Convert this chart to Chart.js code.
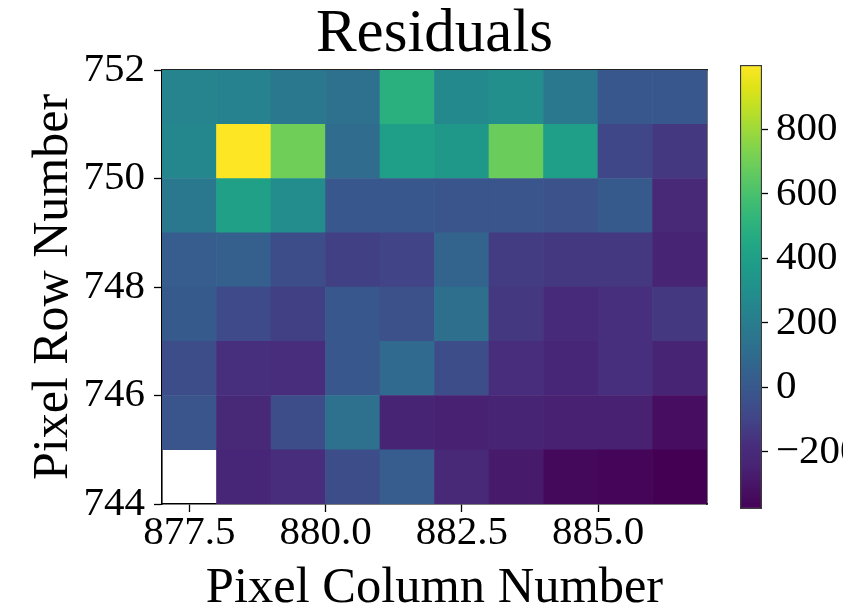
<!DOCTYPE html>
<html><head><meta charset="utf-8">
<script src="https://cdn.jsdelivr.net/npm/chart.js@4.4.1/dist/chart.umd.min.js"></script>
<style>
html,body{margin:0;padding:0;background:#fff;}
#wrap{position:relative;width:843px;height:607px;overflow:hidden;background:#fff;}
canvas{position:absolute;left:0;top:0;}
</style></head><body>
<div id="wrap"><canvas id="heat" width="843" height="607"></canvas><canvas id="cbar" width="843" height="607"></canvas></div>
<script>
// ---- data ----
const columns = [877, 878, 879, 880, 881, 882, 883, 884, 885, 886];
const rows = [744, 745, 746, 747, 748, 749, 750, 751];
const row744 = [null, -224, -182, -59, 24, -210, -279, -348, -361, -377];
const row745 = [-17, -210, -59, 134, -237, -251, -237, -251, -251, -330];
const row746 = [-59, -169, -182, -4, 93, -59, -182, -224, -169, -237];
const row747 = [10, -72, -114, -4, -45, 120, -141, -196, -169, -141];
const row748 = [24, 38, -59, -114, -100, 65, -127, -141, -141, -237];
const row749 = [175, 409, 285, -4, -4, -17, -17, -31, 10, -210];
const row750 = [257, 1000, 697, 106, 395, 354, 684, 395, -86, -141];
const row751 = [244, 230, 175, 134, 491, 271, 299, 175, -4, -4];
const values = [row744, row745, row746, row747, row748, row749, row750, row751];
const xTicks = [877.5, 880.0, 882.5, 885.0];
const yTicks = [744, 746, 748, 750, 752];
const colorbarTicks = [-200, 0, 200, 400, 600, 800];

// ---- colormap ----
const VIRIDIS = ['#440154','#471365','#482475','#472f7d','#414487','#3b528b','#355f8d','#2f6c8e','#2a788e','#25848e','#21918c','#1e9c89','#22a884','#2fb47c','#44bf70','#5ec962','#7ad151','#9bd93c','#bddf26','#dfe318','#fde725'];
function hex2rgb(h){return [parseInt(h.slice(1,3),16),parseInt(h.slice(3,5),16),parseInt(h.slice(5,7),16)];}
const VRGB = VIRIDIS.map(hex2rgb);
function viridis(t){
  t = Math.max(0, Math.min(1, t));
  const n = VRGB.length - 1;
  const s = t * n;
  const i = Math.min(n - 1, Math.floor(s));
  const f = s - i;
  const a = VRGB[i], b = VRGB[i + 1];
  return 'rgb(' + [0,1,2].map(k => Math.round(a[k] + (b[k] - a[k]) * f)).join(',') + ')';
}
const allVals = values.flat().filter(v => v !== null);
const vmin = Math.min(...allVals);
const vmax = Math.max(...allVals);
const colorOf = v => viridis((v - vmin) / (vmax - vmin));

const FONT = '"Liberation Serif", "DejaVu Serif", serif';
const fmt = (v, d) => (v < 0 ? '\u2212' : '') + Math.abs(v).toFixed(d);
const setTicks = arr => s => { s.ticks = arr.map(v => ({ value: v })); };

// ---- heatmap ----
const datasets = rows.map((r, ri) => {
  const cells = columns.map((c, ci) => ({ x: c + 0.5, y: [r, r + 1], v: values[ri][ci] }))
                       .filter(d => d.v !== null);
  return {
    data: cells,
    backgroundColor: cells.map(d => colorOf(d.v)),
    borderWidth: 0,
    grouped: false,
    barPercentage: 1,
    categoryPercentage: 1
  };
});

new Chart(document.getElementById('heat'), {
  type: 'bar',
  data: { datasets },
  options: {
    responsive: false, animation: false, devicePixelRatio: 1,
    layout: { padding: { left: 0, right: 136, top: 0, bottom: 0 } },
    plugins: {
      legend: { display: false }, tooltip: { enabled: false },
      title: { display: true, fullSize: false, text: 'Residuals', color: '#000',
        font: { family: FONT, size: 61, weight: 'normal', lineHeight: 1 },
        padding: { top: 4, bottom: 5 } }
    },
    scales: {
      x: {
        type: 'linear', position: 'bottom', min: 877, max: 887, offset: false,
        afterBuildTicks: setTicks(xTicks),
        afterFit: s => { s.height = 103; },
        ticks: { font: { family: FONT, size: 41, lineHeight: 1 }, color: '#000', padding: 1,
                 maxRotation: 0, autoSkip: false, callback: v => fmt(v, 1) },
        grid: { display: true, drawOnChartArea: false, drawTicks: true, tickLength: 8,
                tickWidth: 1.3, tickColor: '#000', offset: false },
        border: { display: true, color: '#000', width: 1.6 },
        title: { display: true, text: 'Pixel Column Number', color: '#000',
                 font: { family: FONT, size: 50.5, lineHeight: 1 }, padding: { top: 0, bottom: -7 } }
      },
      y: {
        type: 'linear', position: 'left', min: 744, max: 752, beginAtZero: false,
        afterBuildTicks: setTicks(yTicks),
        afterFit: s => { s.width = 162; },
        ticks: { font: { family: FONT, size: 41, lineHeight: 1 }, color: '#000', padding: 9,
                 autoSkip: false, callback: v => fmt(v, 0) },
        grid: { display: true, drawOnChartArea: false, drawTicks: true, tickLength: 8,
                tickWidth: 1.3, tickColor: '#000' },
        border: { display: true, color: '#000', width: 1.6 },
        title: { display: true, text: 'Pixel Row Number', color: '#000',
                 font: { family: FONT, size: 50, lineHeight: 1 }, padding: { top: 28.5, bottom: 0 } }
      },
      x2: {
        type: 'linear', position: 'top', display: true, min: 0, max: 1,
        afterFit: s => { s.height = 0; },
        ticks: { display: false },
        grid: { display: true, drawOnChartArea: false, drawTicks: false },
        border: { display: true, color: '#222', width: 1.6 }
      },
      y2: {
        type: 'linear', position: 'right', display: true, min: 0, max: 1,
        afterFit: s => { s.width = 0; },
        ticks: { display: false },
        grid: { display: true, drawOnChartArea: false, drawTicks: false },
        border: { display: true, color: '#222', width: 1.6 }
      }
    }
  }
});

// ---- colorbar ----
function cbarFill(ctx) {
  const ch = ctx.chart;
  const ys = ch.scales && ch.scales.y;
  if (!ys || !ch.chartArea) return '#888';
  const g = ch.ctx.createLinearGradient(0, ys.getPixelForValue(vmin), 0, ys.getPixelForValue(vmax));
  VIRIDIS.forEach((c, i) => g.addColorStop(i / (VIRIDIS.length - 1), c));
  return g;
}
new Chart(document.getElementById('cbar'), {
  type: 'bar',
  data: { labels: ['colorbar'], datasets: [{
    data: [[vmin, vmax]], backgroundColor: cbarFill, borderColor: '#3a3a3a',
    borderWidth: 1.5, borderSkipped: false, barPercentage: 1, categoryPercentage: 1
  }] },
  options: {
    responsive: false, animation: false, devicePixelRatio: 1,
    layout: { padding: { left: 740, top: 65, bottom: 98, right: 0 } },
    plugins: { legend: { display: false }, tooltip: { enabled: false }, title: { display: false } },
    scales: {
      x: { display: false },
      y: {
        type: 'linear', position: 'right', min: vmin, max: vmax, beginAtZero: false,
        afterBuildTicks: setTicks(colorbarTicks),
        afterFit: s => { s.width = 81; },
        ticks: { font: { family: FONT, size: 41, lineHeight: 1 }, color: '#000', padding: 8,
                 autoSkip: false, callback: v => fmt(v, 0) },
        grid: { display: true, drawOnChartArea: false, drawTicks: true, tickLength: 6,
                tickWidth: 1.3, tickColor: '#000' },
        border: { display: false }
      }
    }
  }
});
</script>
</body></html>
